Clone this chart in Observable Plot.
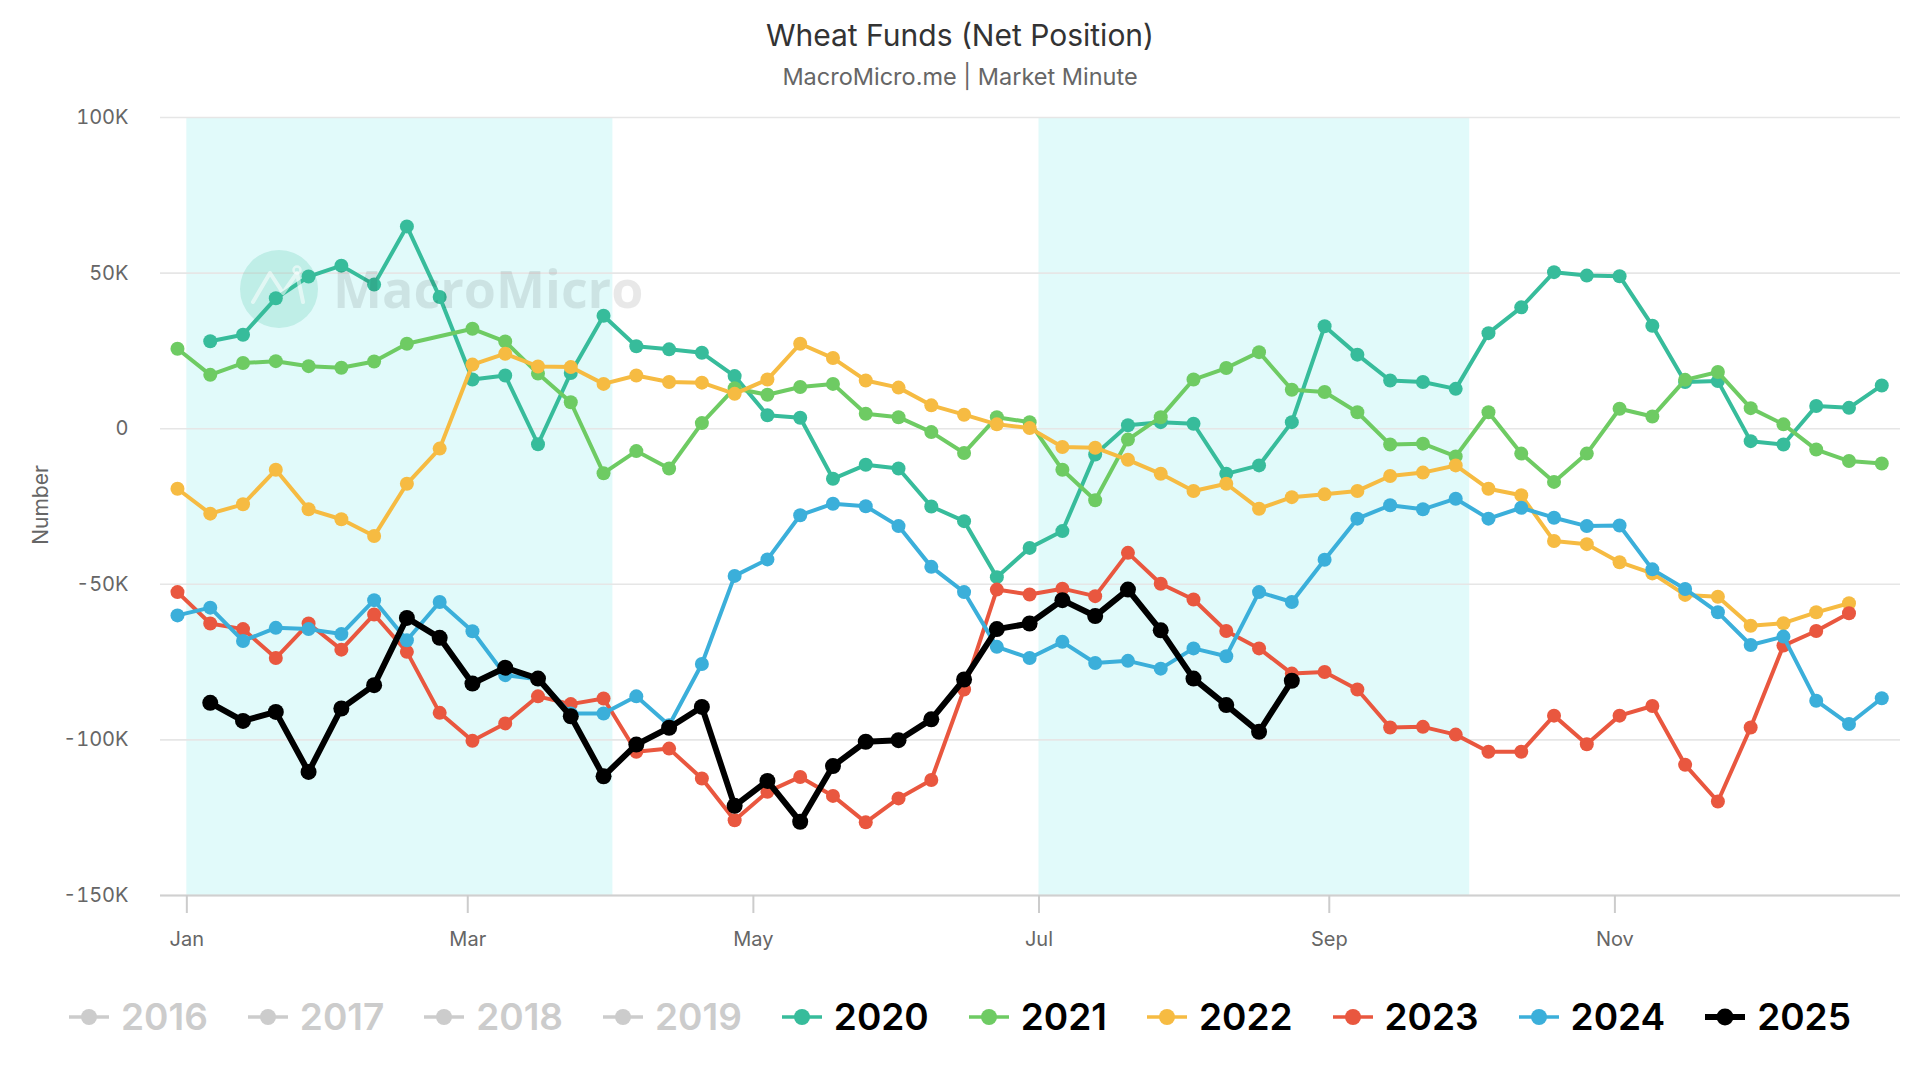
<!DOCTYPE html>
<html>
<head>
<meta charset="utf-8">
<script src="https://cdn.jsdelivr.net/npm/d3@7"></script>
<script src="https://cdn.jsdelivr.net/npm/@observablehq/plot@0.6"></script>
<style>
  html, body { margin: 0; padding: 0; background: #fff; }
  body { width: 1920px; height: 1080px; position: relative; overflow: hidden;
         font-family: Inter, "Liberation Sans", Arial, sans-serif; }
  #header { position: relative; height: 96px; }
  #title { position: absolute; left: 0; width: 1920px; top: 20px; text-align: center;
           font-size: 30px; line-height: 30px; color: #333; }
  #subtitle { position: absolute; left: 0; width: 1920px; top: 65px; text-align: center;
              font-size: 23.5px; line-height: 24px; color: #666; }
  #chart { position: relative; height: 880px; }
  #chart svg { display: block; }
  #ylabel { position: absolute; left: 40px; top: 505px; transform: translate(-50%, -50%) rotate(-90deg);
            font-size: 21px; color: #666; white-space: nowrap; }
  #legend { height: 82px; display: flex; justify-content: center; align-items: center; gap: 40px; }
  .item { display: flex; align-items: center; }
  .item svg { margin-right: 12px; display: block; }
  .item span { font-size: 37px; line-height: 38px; font-weight: 600; }
  #wm-circle { position: absolute; left: 240px; top: 250px; width: 78px; height: 78px; pointer-events: none; }
  #wm-text { position: absolute; left: 333px; top: 262px; font-family: "Open Sans", sans-serif; font-weight: 700;
             font-size: 52px; line-height: 52px; color: rgba(0,0,0,0.09); pointer-events: none; white-space: nowrap; }
</style>
</head>
<body>
<div id="header">
  <div id="title">Wheat Funds (Net Position)</div>
  <div id="subtitle">MacroMicro.me | Market Minute</div>
</div>
<div id="chart"></div>
<div id="legend"></div>
<div id="ylabel">Number</div>
<svg id="wm-circle" viewBox="0 0 78 78">
  <circle cx="39" cy="39" r="39" fill="rgba(54,188,155,0.2)"></circle>
  <polyline points="13,52 30,23 43,43 57,23 63,52" fill="none" stroke="rgba(255,255,255,0.55)" stroke-width="4" stroke-linejoin="round" stroke-linecap="round"></polyline>
  <circle cx="57" cy="20" r="3.5" fill="none" stroke="rgba(255,255,255,0.55)" stroke-width="2.5"></circle>
</svg>
<div id="wm-text">MacroMicro</div>
<script>
// Weekly report dates (plotted on a common seasonal year)
const weeks = [
  "2023-12-30","2024-01-06","2024-01-13","2024-01-20","2024-01-27",
  "2024-02-03","2024-02-10","2024-02-17","2024-02-24",
  "2024-03-02","2024-03-09","2024-03-16","2024-03-23","2024-03-30",
  "2024-04-06","2024-04-13","2024-04-20","2024-04-27",
  "2024-05-04","2024-05-11","2024-05-18","2024-05-25",
  "2024-06-01","2024-06-08","2024-06-15","2024-06-22","2024-06-29",
  "2024-07-06","2024-07-13","2024-07-20","2024-07-27",
  "2024-08-03","2024-08-10","2024-08-17","2024-08-24","2024-08-31",
  "2024-09-07","2024-09-14","2024-09-21","2024-09-28",
  "2024-10-05","2024-10-12","2024-10-19","2024-10-26",
  "2024-11-02","2024-11-09","2024-11-16","2024-11-23","2024-11-30",
  "2024-12-07","2024-12-14","2024-12-21","2024-12-28"
];

const v2020 = [null, 28100, 30200, 41900, 48900, 52400, 46300, 65000, 42300, 15800, 17100, -5000, 17900, 36300, 26500, 25500, 24400, 16900, 4300, 3500, -16100, -11600, -12800, -25000, -29700, -47700, -38300, -32900, -8300, 1100, 2100, 1600, -14500, -11800, 2100, 32900, 23800, 15500, 15000, 12800, 30700, 39000, 50300, 49200, 49000, 33100, 15000, 15300, -4000, -5100, 7300, 6700, 13900];
const v2021 = [25700, 17300, 21100, 21700, 20100, 19600, 21600, 27300, null, 32100, 28000, 17700, 8500, -14300, -7200, -12800, 1800, 13000, 10900, 13400, 14400, 4800, 3700, -1100, -7800, 3700, 2100, -13200, -23000, -3500, 3700, 15800, 19500, 24600, 12500, 11800, 5300, -5100, -4800, -8900, 5300, -8000, -17100, -8000, 6400, 3900, 15700, 18200, 6600, 1400, -6700, -10400, -11200];
const v2022 = [-19300, -27300, -24300, -13200, -25900, -29100, -34500, -17700, -6400, 20600, 24100, 20000, 19800, 14400, 17100, 15000, 14800, 11200, 15800, 27300, 22700, 15500, 13200, 7500, 4500, 1400, 200, -5900, -6100, -10000, -14500, -20000, -17700, -25700, -22000, -21100, -20000, -15200, -14100, -11800, -19300, -21400, -36100, -37100, -42900, -46500, -53400, -54000, -63300, -62500, -59000, -56100, null];
const v2023 = [-52500, -62600, -64400, -73700, -62600, -71000, -59700, -71700, -91300, -100300, -94700, -86000, -88500, -86700, -103800, -102800, -112400, -125800, -116700, -111900, -118000, -126500, -118800, -112900, -83800, -51700, -53300, -51400, -53800, -39900, -49800, -54900, -65000, -70600, -78700, -78200, -83800, -96000, -95800, -98300, -103800, -103800, -92200, -101400, -92200, -89100, -108000, -119800, -96000, -69700, -65000, -59300, null];
const v2024 = [-60000, -57500, -68200, -64000, -64400, -66000, -55100, -68000, -55700, -65100, -79200, -80500, -91500, -91500, -86000, -95300, -75600, -47300, -42000, -27800, -24100, -24900, -31300, -44400, -52500, -70100, -73700, -68500, -75300, -74600, -77100, -70600, -73100, -52500, -55700, -42100, -28900, -24600, -25900, -22500, -28900, -25400, -28600, -31300, -31100, -45200, -51500, -59000, -69500, -66800, -87400, -94900, -86600];
const v2025 = [null, -88100, -93900, -91000, -110300, -89900, -82400, -60800, -67200, -81900, -76800, -80300, -92400, -111700, -101500, -96100, -89400, -121200, -113200, -126300, -108400, -100600, -100100, -93400, -80600, -64400, -62600, -55100, -60200, -51700, -64800, -80300, -88800, -97400, -81000];

const legendYears = ["2016","2017","2018","2019","2020","2021","2022","2023","2024","2025"];
const hiddenYears = ["2016","2017","2018","2019"];
const seriesYears = ["2020","2021","2022","2023","2024","2025"];
const seriesValues = [v2020, v2021, v2022, v2023, v2024, v2025];
const seriesColors = ["#37bc9b", "#6ecb63", "#f6bb42", "#e9573f", "#3bafda", "#000000"];

const yTicks = [-150000, -100000, -50000, 0, 50000, 100000];
const yTickLabels = ["-150K", "-100K", "-50K", "0", "50K", "100K"];
const monthTicks = ["2024-01-01","2024-03-01","2024-05-01","2024-07-01","2024-09-01","2024-11-01"];
const monthLabels = ["Jan", "Mar", "May", "Jul", "Sep", "Nov"];
const bandStarts = ["2024-01-01", "2024-07-01"];
const bandEnds = ["2024-04-01", "2024-10-01"];
const xDomain = ["2023-12-26T09:00:00Z", "2025-01-01T00:00:00Z"];
const yDomain = [-150000, 100000];

const bands = bandStarts.map((s, i) => ({start: new Date(s), end: new Date(bandEnds[i])}));
const tickDates = monthTicks.map(d => new Date(d));

const seriesMarks = [];
seriesYears.forEach((year, k) => {
  const rows = seriesValues[k]
    .map((v, i) => ({date: new Date(weeks[i]), value: v}))
    .filter(d => d.value !== null && d.value !== undefined);
  const bold = year === "2025";
  seriesMarks.push(Plot.line(rows, {x: "date", y: "value", stroke: seriesColors[k], strokeWidth: bold ? 6 : 4}));
  seriesMarks.push(Plot.dot(rows, {x: "date", y: "value", fill: seriesColors[k], r: bold ? 8 : 7, stroke: "none"}));
});

const chart = Plot.plot({
  width: 1920,
  height: 880,
  marginTop: 21,
  marginBottom: 81,
  marginLeft: 160,
  marginRight: 20,
  style: {fontFamily: "Inter, 'Liberation Sans', Arial, sans-serif", fontSize: "20px", color: "#666", background: "transparent", overflow: "visible"},
  x: {type: "utc", domain: xDomain.map(d => new Date(d))},
  y: {domain: yDomain},
  marks: [
    Plot.rectX(bands, {x1: "start", x2: "end", fill: "#e1fafa"}),
    Plot.gridY(yTicks, {stroke: "#e6e6e6", strokeOpacity: 1, strokeWidth: 1.6}),
    Plot.ruleY([yDomain[0]], {stroke: "#d0d0d0", strokeWidth: 2}),
    Plot.axisX(tickDates, {
      tickSize: 18, tickPadding: 18,
      tickFormat: d => monthLabels[tickDates.findIndex(t => +t === +d)],
      stroke: "#cccccc", strokeWidth: 2, fill: "#666", fontSize: 20, label: null
    }),
    Plot.axisY(yTicks, {
      tickSize: 0, tickPadding: 32, tickFormat: d => yTickLabels[yTicks.indexOf(d)],
      fill: "#666", fontSize: 20, label: null
    }),
    ...seriesMarks
  ]
});
document.getElementById("chart").appendChild(chart);

// Legend
const legend = document.getElementById("legend");
legendYears.forEach(year => {
  const hidden = hiddenYears.includes(year);
  const k = seriesYears.indexOf(year);
  const color = hidden ? "#cccccc" : seriesColors[k];
  const bold = year === "2025";
  const item = document.createElement("div");
  item.className = "item";
  item.innerHTML =
    `<svg width="40" height="20" viewBox="0 0 40 20">` +
    `<line x1="0" y1="10" x2="40" y2="10" stroke="${color}" stroke-width="${bold ? 6 : 3.5}"></line>` +
    `<circle cx="20" cy="10" r="${bold ? 8.5 : 8}" fill="${color}"></circle></svg>` +
    `<span style="color:${hidden ? "#cccccc" : "#000"}">${year}</span>`;
  legend.appendChild(item);
});
</script>
</body>
</html>
